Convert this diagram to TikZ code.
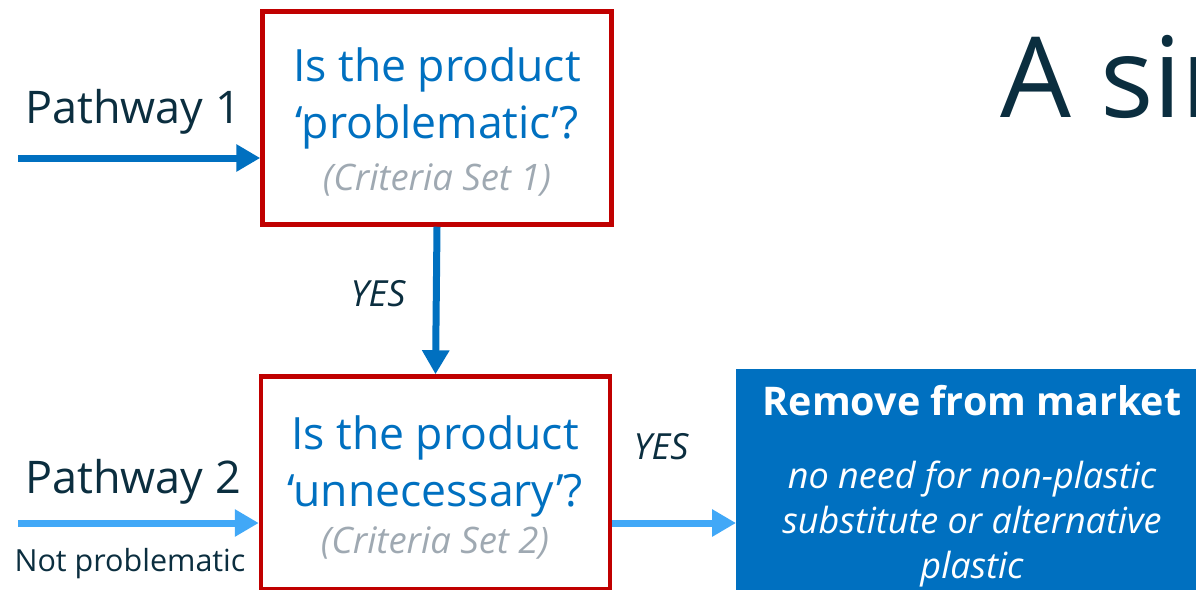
\documentclass[tikz,border=0pt]{standalone}
\usepackage{fontspec}
\setmainfont{Open Sans}
\usetikzlibrary{arrows.meta}
\definecolor{qblue}{HTML}{0070C0}
\definecolor{lblue}{HTML}{41A8F7}
\definecolor{qred}{HTML}{C00000}
\definecolor{dark}{HTML}{0B2E3F}
\definecolor{qgray}{HTML}{9FA9B2}
\tikzset{
  qbox/.style={draw=qred, line width=4.5pt, minimum width=349pt, minimum height=213pt, inner sep=0pt},
  qtext/.style={text=qblue, font=\fontsize{44.5}{57}\selectfont, align=center, inner sep=0pt},
  crit/.style={text=qgray, font=\itshape\fontsize{36.5}{40}\selectfont, inner sep=0pt},
  lbl/.style={text=dark, font=\fontsize{45}{50}\selectfont, inner sep=0pt},
  small/.style={text=dark, font=\fontsize{30.5}{34}\selectfont, inner sep=0pt},
  yes/.style={text=dark, font=\itshape\fontsize{36}{40}\selectfont, inner sep=0pt},
  darrow/.style={draw=qblue, line width=7pt, -{Triangle[length=24pt,width=26pt]}},
  larrow/.style={draw=lblue, line width=7pt, -{Triangle[length=24pt,width=26pt]}}
}
\begin{document}
\begin{tikzpicture}[x=1pt,y=-1pt]
\useasboundingbox (0,0) rectangle (1196,589);
\clip (0,0) rectangle (1196,589);
% title
\node[anchor=base west, text=dark, font=\fontsize{112}{120}\selectfont, inner sep=0pt] (title) at (1000,117) {A simple};
% boxes
\node[qbox] (b1) at (437,118) {};
\node[qbox] (b2) at (435.5,483) {};
\node[fill=qblue, minimum width=480pt, minimum height=230pt, inner sep=0pt, anchor=north west] (rm) at (736,369) {};
% box 1 texts
\node[qtext] (t1) at (437,98) {Is the product\\‘problematic’?};
\node[crit] (c1) at (437,180) {(Criteria Set 1)};
% box 2 texts
\node[qtext] (t2) at (435,466) {Is the product\\‘unnecessary’?};
\node[crit] (c2) at (435,543) {(Criteria Set 2)};
% remove box texts
\node[text=white, font=\bfseries\fontsize{39.5}{44}\selectfont, inner sep=0pt] (rt) at (972,401) {Remove from market};
\node[text=white, font=\itshape\fontsize{36}{45}\selectfont, align=center, inner sep=0pt] (rs) at (972,524) {no need for non-plastic\\substitute or alternative\\plastic};
% pathway labels
\node[lbl] (p1) at (133,112) {Pathway 1};
\node[lbl] (p2) at (133,482) {Pathway 2};
\node[small] (np) at (130,564) {Not problematic};
\node[yes] (y1) at (378,294) {YES};
\node[yes] (y2) at (661,447) {YES};
% connectors
\coordinate (s1) at (18,158);
\coordinate (s2) at (18,523);
\draw[darrow] (s1) -- (s1 -| b1.west);
\draw[larrow] (s2) -- (s2 -| b2.west);
\draw[darrow] (b1.south) -- (b2.north);
\draw[larrow] (b2.east |- s2) -- (rm.west |- s2);
\end{tikzpicture}
\end{document}
